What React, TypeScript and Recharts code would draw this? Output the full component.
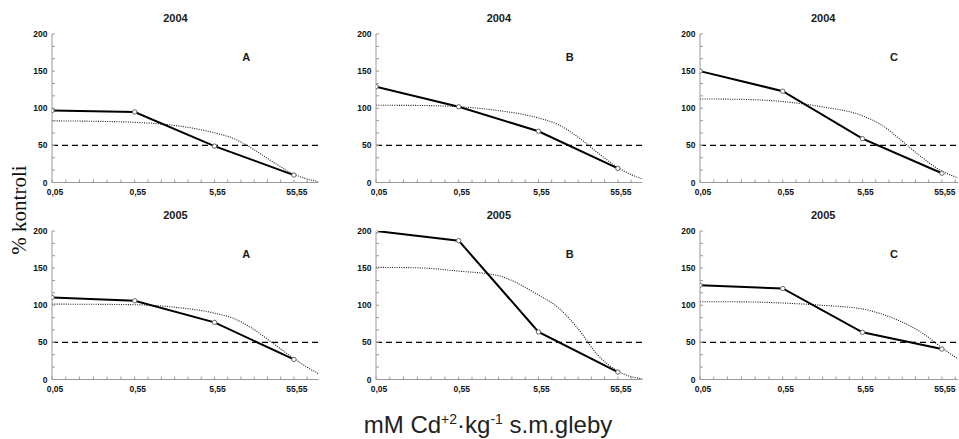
import React from 'react';
import { LineChart, Line, XAxis, YAxis, ReferenceLine } from 'recharts';

// doses of Cd (mM/kg), placed on a log axis
const doses = [0.05, 0.55, 5.55, 55.55];
const fitDoses = [0.05, 0.16, 0.55, 1.7, 5.5, 9.8, 17, 31, 56, 80, 113];

const xMajorTicks = [0.05, 0.55, 5.55, 55.55];
const xMinorTicks = [
  0.0746, 0.111, 0.166, 0.247, 0.369,
  0.809, 1.19, 1.75, 2.57, 3.78,
  8.15, 11.96, 17.56, 25.8, 37.8,
  81.6,
];
const yMajorTicks = [0, 50, 100, 150, 200];
const yMinorTicks = [16.7, 33.3, 66.7, 83.3, 116.7, 133.3, 166.7, 183.3];

const years = ['2004', '2004', '2004', '2005', '2005', '2005'];
const letters = ['A', 'B', 'C', 'A', 'B', 'C'];

// measured % of control
const measured2004A = [97, 95, 49, 10];
const measured2004B = [129, 102, 69, 19];
const measured2004C = [150, 123, 59, 12.5];
const measured2005A = [110.5, 106, 77, 27];
const measured2005B = [200, 187, 64, 10];
const measured2005C = [127, 122.6, 63.5, 41];

// fitted dose-response curves (dotted)
const fit2004A = [83, 82.5, 81, 77, 67, 59, 45, 27, 11, 5, 1];
const fit2004B = [104, 103.8, 102, 97, 87, 78, 62, 40, 20, 11, 5];
const fit2004C = [112.5, 112, 109, 102, 90, 77, 57, 34, 15, 8, 3];
const fit2005A = [101.5, 101.3, 100.7, 97.5, 89.5, 82, 68, 48, 28, 17, 8];
const fit2005B = [151, 150.5, 146, 140, 114, 97, 70, 33, 11, 4, 1];
const fit2005C = [104.7, 104.6, 103, 100, 95, 88, 78, 63, 42.5, 31, 21.5];

const measuredSets = [measured2004A, measured2004B, measured2004C, measured2005A, measured2005B, measured2005C];
const fitSets = [fit2004A, fit2004B, fit2004C, fit2005A, fit2005B, fit2005C];

const panelLefts = [7.3, 330.7, 655, 7.3, 330.7, 655];
const panelTops = [0, 0, 0, 197, 197, 197];
const plotWidths = [266.4, 266.4, 258, 266.4, 266.4, 258];
const xMaxes = [113, 113, 88.5, 113, 113, 88.5];

const H = 205;
const Y_W = 45;
const RIGHT = 9.6;

const fmt = (v: number) => String(v).replace('.', ',');
const tickFont = { fontFamily: 'Liberation Sans, Arial, sans-serif', fontSize: 8.5, fontWeight: 700, fill: '#111' };

const XTick = (props: any) => {
  const { x, y, payload } = props;
  if (!xMajorTicks.includes(payload.value)) return <g />;
  return (
    <text x={x + 3} y={y} dy="0.71em" textAnchor="middle" {...tickFont}>
      {fmt(payload.value)}
    </text>
  );
};

const YTick = (props: any) => {
  const { x, y, payload } = props;
  if (!yMajorTicks.includes(payload.value)) return <g />;
  return (
    <text x={x} y={y} dy="0.355em" textAnchor="end" {...tickFont}>
      {payload.value}
    </text>
  );
};

const NoTick = () => <g />;

const Panel = ({ idx }: { idx: number }) => {
  const measuredData = doses.map((d, i) => ({ dose: d, value: measuredSets[idx][i] }));
  const fitData = fitDoses.map((d, i) => ({ dose: d, value: fitSets[idx][i] }));
  const plotW = plotWidths[idx];
  const W = Y_W + plotW + RIGHT;
  const xMax = xMaxes[idx];
  const xAll = [...xMajorTicks, ...xMinorTicks].filter((v) => v <= xMax).sort((a, b) => a - b);
  const yAll = [...yMajorTicks, ...yMinorTicks].sort((a, b) => a - b);
  const frame = { stroke: '#9a9a9a' };
  return (
    <div style={{ position: 'absolute', left: panelLefts[idx], top: panelTops[idx], width: W, height: H }}>
      <div
        style={{
          position: 'absolute', left: Y_W + 133.2 - 10 - 50, top: 11.5, width: 100, textAlign: 'center',
          fontSize: 11, fontWeight: 700, lineHeight: '13px', color: '#1a1a1a',
        }}
      >
        {years[idx]}
      </div>
      <div
        style={{
          position: 'absolute', left: Y_W + 194 - 20, top: 50.5, width: 40, textAlign: 'center',
          fontSize: 11, fontWeight: 700, lineHeight: '13px', color: '#1a1a1a',
        }}
      >
        {letters[idx]}
      </div>
      <LineChart width={W} height={H} margin={{ top: 34, right: RIGHT, bottom: 2.5, left: 0 }}>
        <XAxis
          xAxisId="b" dataKey="dose" type="number" scale="log" domain={[0.05, xMax]} allowDataOverflow
          ticks={xAll} interval={0} height={20} axisLine={frame} tickLine={frame}
          tickSize={-3} tickMargin={9.5} tick={<XTick />}
        />
        <XAxis
          xAxisId="t" orientation="top" dataKey="dose" type="number" scale="log" domain={[0.05, xMax]}
          allowDataOverflow ticks={xAll} interval={0} height={0} axisLine={frame} tickLine={frame}
          tickSize={-3} tick={<NoTick />}
        />
        <YAxis
          yAxisId="l" type="number" domain={[0, 200]} allowDataOverflow ticks={yAll} interval={0}
          width={Y_W} axisLine={frame} tickLine={frame} tickSize={-3} tickMargin={7.6} tick={<YTick />}
        />
        <YAxis
          yAxisId="r" orientation="right" type="number" domain={[0, 200]} allowDataOverflow ticks={yAll}
          interval={0} width={0} axisLine={frame} tickLine={frame} tickSize={-3} tick={<NoTick />}
        />
        <ReferenceLine xAxisId="b" yAxisId="l" y={50} stroke="#000" strokeWidth={1.2} strokeDasharray="6 4" />
        <Line
          xAxisId="b" yAxisId="l" data={fitData} dataKey="value" type="monotone" stroke="#1a1a1a"
          strokeWidth={1.1} strokeDasharray="1 1.3" dot={false} isAnimationActive={false}
        />
        <Line
          xAxisId="b" yAxisId="l" data={measuredData} dataKey="value" type="linear" stroke="#000"
          strokeWidth={2} dot={{ r: 2.2, stroke: '#666', strokeWidth: 1, fill: '#fff' }}
          isAnimationActive={false}
        />
      </LineChart>
    </div>
  );
};

export default function App() {
  return (
    <div
      style={{
        position: 'absolute', left: 0, top: 0, width: 959, height: 439, overflow: 'hidden',
        background: '#fff', fontFamily: 'Liberation Sans, Arial, sans-serif',
      }}
    >
      {years.map((_, i) => (
        <Panel key={i} idx={i} />
      ))}
      <div
        style={{
          position: 'absolute', left: 18.5 - 70, top: 210 - 12, width: 140, height: 24, lineHeight: '24px',
          textAlign: 'center', transform: 'rotate(-90deg)', fontFamily: 'Liberation Serif, Times New Roman, serif',
          fontSize: 21, color: '#111', whiteSpace: 'nowrap',
        }}
      >
        % kontroli
      </div>
      <div
        style={{
          position: 'absolute', left: 288, top: 412.7, width: 400, textAlign: 'center', fontSize: 24,
          lineHeight: '24px', color: '#222', whiteSpace: 'nowrap',
        }}
      >
        mM Cd<span style={{ fontSize: 14, position: 'relative', top: -9 }}>+2</span>·kg
        <span style={{ fontSize: 14, position: 'relative', top: -9 }}>-1</span> s.m.gleby
      </div>
    </div>
  );
}
